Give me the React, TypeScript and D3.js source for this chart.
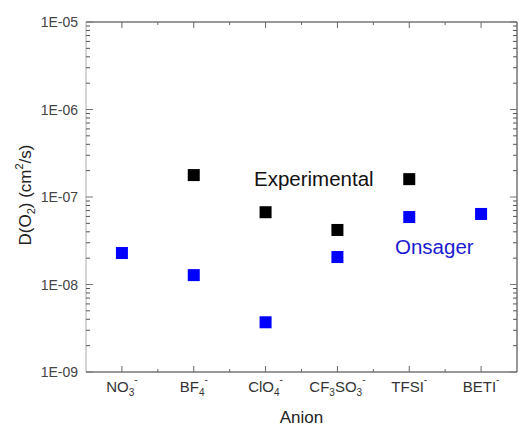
import React from 'react';
import * as d3 from 'd3';

// anion names
const anions = ['NO3', 'BF4', 'ClO4', 'CF3SO3', 'TFSI', 'BETI'];
// tick label pieces: [text, 'n'|'sub'|'sup']
const anionLabels: [string, string][][] = [
  [['NO', 'n'], ['3', 'sub'], ['-', 'sup']],
  [['BF', 'n'], ['4', 'sub'], ['-', 'sup']],
  [['ClO', 'n'], ['4', 'sub'], ['-', 'sup']],
  [['CF', 'n'], ['3', 'sub'], ['SO', 'n'], ['3', 'sub'], ['-', 'sup']],
  [['TFSI', 'n'], ['-', 'sup']],
  [['BETI', 'n'], ['-', 'sup']],
];

const experimental: (number | null)[] = [null, 1.78e-7, 6.7e-8, 4.2e-8, 1.6e-7, null];
const onsager: (number | null)[] = [2.29e-8, 1.28e-8, 3.7e-9, 2.06e-8, 5.9e-8, 6.4e-8];

const yTickLabels = ['1E-09', '1E-08', '1E-07', '1E-06', '1E-05'];
const yTickValues = [1e-9, 1e-8, 1e-7, 1e-6, 1e-5];

const W = 519;
const H = 430;
const margin = { top: 22, right: 1, bottom: 58, left: 86 };

const App = () => {
  const left = margin.left;
  const right = W - margin.right - 1;
  const top = margin.top;
  const bottom = H - margin.bottom;

  const x = d3.scaleLinear().domain([0.5, anions.length + 0.5]).range([left, right]);
  const y = d3.scaleLog().domain([1e-9, 1e-5]).range([bottom, top]);

  // minor ticks 2..9 in each decade
  const minor: number[] = [];
  for (let e = -9; e < -5; e++) {
    for (let m = 2; m <= 9; m++) minor.push(m * Math.pow(10, e));
  }
  const halfTicks = d3.range(1, anions.length).map(i => i + 0.5);

  const sq = 12;
  const font = 'Arial, "Liberation Sans", sans-serif';
  const axisCol = '#333';
  const fs = 15; // x tick label size
  const fsSmall = 10;

  return (
    <svg width={W} height={H} style={{ display: 'block', position: 'absolute', left: 0, top: 0 }}>
      <rect width={W} height={H} fill="#fff" />
      {/* frame */}
      <line x1={left} x2={right} y1={top} y2={top} stroke={axisCol} strokeWidth={1} />
      <line x1={left} x2={right} y1={bottom} y2={bottom} stroke={axisCol} strokeWidth={1} />
      <line x1={left} x2={left} y1={top} y2={bottom} stroke="#aaa" strokeWidth={1} />
      <line x1={right} x2={right} y1={top} y2={bottom} stroke={axisCol} strokeWidth={1} />

      {/* y ticks */}
      {yTickValues.map(v => (
        <g key={v}>
          <line x1={left} x2={left + 7} y1={y(v)} y2={y(v)} stroke="#777" />
          <line x1={right} x2={right - 7} y1={y(v)} y2={y(v)} stroke="#777" />
        </g>
      ))}
      {minor.map(v => (
        <g key={v}>
          <line x1={left} x2={left + 4} y1={y(v)} y2={y(v)} stroke="#555" />
          <line x1={right} x2={right - 4} y1={y(v)} y2={y(v)} stroke="#555" />
        </g>
      ))}
      {yTickValues.map((v, i) => (
        <text key={v} x={left - 8} y={y(v) + 5} textAnchor="end" fontFamily={font} fontSize={14} fill="#444">
          {yTickLabels[i]}
        </text>
      ))}

      {/* x ticks */}
      {anions.map((a, i) => (
        <g key={a}>
          <line x1={x(i + 1)} x2={x(i + 1)} y1={bottom} y2={bottom - 6} stroke="#666" />
          <line x1={x(i + 1)} x2={x(i + 1)} y1={top} y2={top + 6} stroke="#666" />
        </g>
      ))}
      {halfTicks.map(v => (
        <g key={v}>
          <line x1={x(v)} x2={x(v)} y1={bottom} y2={bottom - 3} stroke="#666" />
          <line x1={x(v)} x2={x(v)} y1={top} y2={top + 3} stroke="#666" />
        </g>
      ))}
      {anionLabels.map((parts, i) => (
        <text key={i} x={x(i + 1)} y={bottom + 20} textAnchor="middle" fontFamily={font} fontSize={fs} fill="#333">
          {parts.map(([t, k], j) => {
            const prev = j > 0 ? parts[j - 1][1] : 'n';
            let dy = 0;
            if (prev === 'sub') dy -= 4;
            if (prev === 'sup') dy += 9;
            if (k === 'sub') dy += 4;
            if (k === 'sup') dy -= 9;
            return (
              <tspan key={j} fontSize={k === 'n' ? fs : fsSmall} dy={dy}>
                {t}
              </tspan>
            );
          })}
        </text>
      ))}

      {/* axis titles */}
      <text x={(left + right) / 2} y={H - 7} textAnchor="middle" fontFamily={font} fontSize={17} fill="#222">
        Anion
      </text>
      <text
        transform={`translate(31,${(top + bottom) / 2 - 2}) rotate(-90)`}
        textAnchor="middle"
        fontFamily={font}
        fontSize={17}
        fill="#222"
      >
        D(O<tspan fontSize={11} dy={4}>2</tspan>
        <tspan dy={-4}>) (cm</tspan>
        <tspan fontSize={11} dy={-8}>2</tspan>
        <tspan dy={8}>/s)</tspan>
      </text>

      {/* points */}
      {experimental.map((v, i) =>
        v == null ? null : (
          <rect key={'e' + i} x={x(i + 1) - sq / 2} y={y(v) - sq / 2} width={sq} height={sq} fill="#000" />
        )
      )}
      {onsager.map((v, i) =>
        v == null ? null : (
          <rect key={'o' + i} x={x(i + 1) - sq / 2} y={y(v) - sq / 2} width={sq} height={sq} fill="#0000ff" />
        )
      )}

      {/* series labels */}
      <text x={254} y={186} fontFamily={font} fontSize={20.5} fill="#111">
        Experimental
      </text>
      <text x={395} y={254} fontFamily={font} fontSize={20.5} fill="#1a1ad0">
        Onsager
      </text>
    </svg>
  );
};

export default App;
